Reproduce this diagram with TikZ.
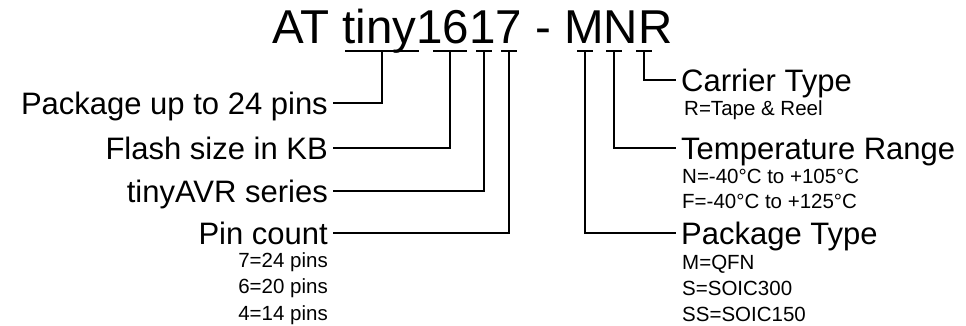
\documentclass[tikz,border=0pt]{standalone}
\usepackage{fontspec}
\setmainfont{Liberation Sans}
\tikzset{
    tag/.style={font=\fontsize{31}{31}\selectfont, inner xsep=5pt, inner ysep=0pt, text height=22pt, text depth=0pt},
    note/.style={font=\fontsize{20.5}{20.5}\selectfont, inner sep=0pt},
    bar/.style={line width=1.8pt},
    link/.style={line width=1.8pt}
}
\begin{document}
\begin{tikzpicture}[x=1pt, y=1pt]
    \useasboundingbox (0,0) rectangle (966,325);

    % Part number
    \node[font=\fontsize{47.5}{47.5}\selectfont, inner sep=0pt, anchor=base west] (partno) at (272,282) {AT tiny1617 - MNR};

    % Tick points under each field
    \coordinate (tTiny) at (382,274);
    \coordinate (tFlash) at (450,274);
    \coordinate (tSeries) at (484,274);
    \coordinate (tPins) at (509,274);
    \coordinate (tPack) at (585,274);
    \coordinate (tTemp) at (614,274);
    \coordinate (tCarrier) at (644,274);

    % Fields on the left
    \node[tag, anchor=east] (pkg) at (333,222) {Package up to 24 pins};
    \node[tag, anchor=east] (flash) at (333,177) {Flash size in KB};
    \node[tag, anchor=east] (series) at (333,134) {tinyAVR series};
    \node[tag, anchor=east] (pins) at (333,92) {Pin count};
    \node[note, anchor=base east] (pins7) at (328,58) {7=24 pins};
    \node[note, anchor=base east] (pins6) at (328,32) {6=20 pins};
    \node[note, anchor=base east] (pins4) at (328,5) {4=14 pins};

    % Fields on the right
    \node[tag, anchor=west] (carrier) at (676,245) {Carrier Type};
    \node[note, anchor=base west] (reel) at (684,210) {R=Tape \& Reel};
    \node[tag, anchor=west] (temp) at (676,177) {Temperature Range};
    \node[note, anchor=base west] (tempN) at (682,142) {N=-40°C to +105°C};
    \node[note, anchor=base west] (tempF) at (682,117) {F=-40°C to +125°C};
    \node[tag, anchor=west] (pack) at (676,92) {Package Type};
    \node[note, anchor=base west] (packM) at (682,56) {M=QFN};
    \node[note, anchor=base west] (packS) at (682,30) {S=SOIC300};
    \node[note, anchor=base west] (packSS) at (682,4) {SS=SOIC150};

    % Underlines
    \draw[bar] ([xshift=-37pt]tTiny) -- ([xshift=37pt]tTiny);
    \draw[bar] ([xshift=-17pt]tFlash) -- ([xshift=17pt]tFlash);
    \draw[bar] ([xshift=-8pt]tSeries) -- ([xshift=8pt]tSeries);
    \draw[bar] ([xshift=-8pt]tPins) -- ([xshift=8pt]tPins);
    \draw[bar] ([xshift=-8pt]tPack) -- ([xshift=8pt]tPack);
    \draw[bar] ([xshift=-8pt]tTemp) -- ([xshift=8pt]tTemp);
    \draw[bar] ([xshift=-8pt]tCarrier) -- ([xshift=8pt]tCarrier);

    % Leaders
    \draw[link] (tTiny) |- (pkg.east);
    \draw[link] (tFlash) |- (flash.east);
    \draw[link] (tSeries) |- (series.east);
    \draw[link] (tPins) |- (pins.east);
    \draw[link] (tCarrier) |- (carrier.west);
    \draw[link] (tTemp) |- (temp.west);
    \draw[link] (tPack) |- (pack.west);

\end{tikzpicture}
\end{document}
